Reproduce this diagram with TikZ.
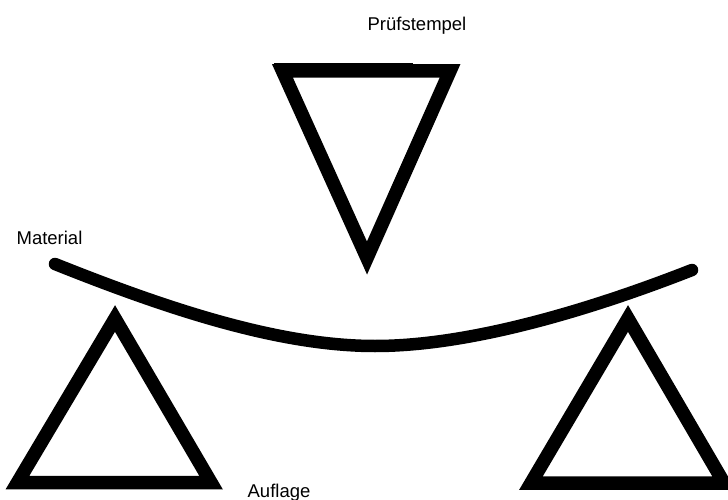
\documentclass[tikz,border=0pt]{standalone}
\usepackage{fontspec}
\setmainfont{Liberation Sans}
\begin{document}
\begin{tikzpicture}[x=1pt,y=-1pt,
  wedge/.style={draw=black,line width=13.5pt,line join=miter,miter limit=10,fill=none},
  bar/.style={draw=black,line width=12.5pt,line cap=round},
  lab/.style={font=\fontsize{18.5}{22}\selectfont,text=black,inner sep=0pt}]
\useasboundingbox (0,0) rectangle (728,500);
\draw[wedge] (282.5,71) -- (450,71) -- (367,258) -- cycle;
\draw[black,line width=3pt] (274,64.5) -- (413,64.5);
\draw[wedge] (115,318.5) -- (211,482.5) -- (17.5,482.5) -- cycle;
\draw[wedge] (628,318.5) -- (724,483) -- (531,483) -- cycle;
\draw[bar] (55,264) .. controls (170,310) and (280,346) .. (375,346) .. controls (470,346) and (590,310) .. (692,270);
\node[lab] (pruef) at (417,25.5) {Prüfstempel};
\node[lab] (mat) at (49.5,237.5) {Material};
\node[lab] (auf) at (279,492.5) {Auflage};
\end{tikzpicture}
\end{document}
